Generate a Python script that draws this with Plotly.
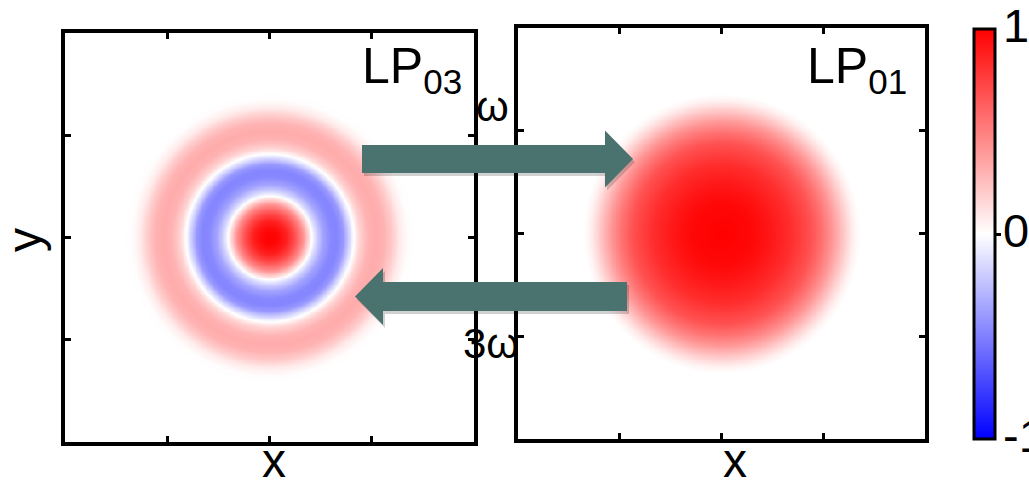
import numpy as np
import plotly.graph_objects as go

# ---------------- data ----------------
# radial field profiles, radius in axis units (panel spans -1..1)
lp03_r = [0, 0.04, 0.08, 0.12, 0.16, 0.185, 0.205, 0.225, 0.26, 0.30, 0.33,
          0.36, 0.39, 0.41, 0.44, 0.48, 0.52, 0.56, 0.60, 0.635, 0.675, 0.71, 1.5]
lp03_v = [1.0, 0.97, 0.88, 0.70, 0.45, 0.20, 0.0, -0.16, -0.36, -0.47, -0.48,
          -0.40, -0.15, 0.0, 0.18, 0.30, 0.33, 0.30, 0.20, 0.08, 0.01, 0.0, 0.0]

lp01_r = [0, 0.15, 0.24, 0.34, 0.44, 0.49, 0.54, 0.58, 0.62, 0.65, 0.68, 1.5]
lp01_v = [1.0, 0.97, 0.91, 0.82, 0.68, 0.56, 0.42, 0.28, 0.14, 0.05, 0.0, 0.0]

mode_labels = ["LP<sub>03</sub>", "LP<sub>01</sub>"]
freq_labels = ["ω", "3ω"]
cbar_ticks = [-1, 0, 1]
cbar_text = ["-1", "0", "1"]

# ---------------- build 2D fields from radial profiles ----------------
N = 241
g = np.linspace(-1, 1, N)
X, Y = np.meshgrid(g, g)
R = np.sqrt(X ** 2 + Y ** 2)
z03 = np.interp(R, lp03_r, lp03_v)
z01 = np.interp(R, lp01_r, lp01_v)

W, H = 1029, 483
def px(x):
    return x / W
def py(y):
    return 1 - y / H

FONT = "Liberation Sans, Arial, sans-serif"

fig = go.Figure()
fig.add_trace(go.Heatmap(x=g, y=g, z=z03, coloraxis="coloraxis", zsmooth="best",
                         hoverinfo="skip", xaxis="x", yaxis="y"))
fig.add_trace(go.Heatmap(x=g, y=g, z=z01, coloraxis="coloraxis", zsmooth="best",
                         hoverinfo="skip", xaxis="x2", yaxis="y2"))

ax_common = dict(range=[-1, 1], showline=True, linewidth=4, linecolor="black",
                 mirror="ticks", ticks="inside", ticklen=6, tickwidth=3,
                 tickcolor="black", tickvals=[-0.5, 0, 0.5], showticklabels=False,
                 showgrid=False, zeroline=False, fixedrange=True)

fig.update_layout(
    width=W, height=H, margin=dict(l=0, r=0, t=0, b=0, autoexpand=False),
    paper_bgcolor="white", plot_bgcolor="white",
    font=dict(family=FONT, color="black"),
    xaxis=dict(domain=[px(65), px(474)], anchor="y", **ax_common),
    yaxis=dict(domain=[py(442), py(33)], anchor="x", **ax_common),
    xaxis2=dict(domain=[px(518), px(925)], anchor="y2", **ax_common),
    yaxis2=dict(domain=[py(439), py(28)], anchor="x2", **ax_common),
    coloraxis=dict(
        cmin=-1, cmax=1,
        colorscale=[[0, "rgb(0,0,255)"], [0.5, "rgb(255,255,255)"], [1, "rgb(255,0,0)"]],
        colorbar=dict(x=px(973.5), xanchor="left", xpad=0, thickness=21,
                      thicknessmode="pixels", len=410, lenmode="pixels",
                      y=py(234), yanchor="middle", ypad=0,
                      outlinewidth=3, outlinecolor="black",
                      tickvals=[0], ticks="outside", showticklabels=False,
                      ticklen=5, tickwidth=3, tickcolor="black"),
    ),
    showlegend=False,
)

# arrows (layout shapes, pixel geometry converted to paper)
def arrow_path(tail, tip, yc, sh, hh, hl, dx=0, dy=0):
    d = 1 if tip > tail else -1
    base = tip - d * hl
    pts = [(tail, yc - sh), (base, yc - sh), (base, yc - hh), (tip, yc),
           (base, yc + hh), (base, yc + sh), (tail, yc + sh)]
    s = "M " + " L ".join(f"{px(x + dx):.5f},{py(y + dy):.5f}" for x, y in pts) + " Z"
    return s

ARROW = "#4a7370"
arrows = [(362, 633, 159, 14, 28.5, 28), (627, 355, 296.5, 14.5, 28.5, 28)]
shapes = []
for a in arrows:
    shapes.append(dict(type="path", path=arrow_path(*a, dx=2, dy=3), xref="paper",
                       yref="paper", fillcolor="rgba(0,0,0,0.18)", line=dict(width=0),
                       layer="above"))
    shapes.append(dict(type="path", path=arrow_path(*a), xref="paper", yref="paper",
                       fillcolor=ARROW, line=dict(width=0), layer="above"))
fig.update_layout(shapes=shapes)

ann = []
ann.append(dict(text=mode_labels[0], x=px(360), y=py(70), xanchor="left", yanchor="middle",
                font=dict(size=50)))
ann.append(dict(text=mode_labels[1], x=px(805), y=py(70), xanchor="left", yanchor="middle",
                font=dict(size=50)))
ann.append(dict(text=freq_labels[0], x=px(492), y=py(107), xanchor="center", yanchor="middle",
                font=dict(size=42)))
ann.append(dict(text=freq_labels[1], x=px(491), y=py(343), xanchor="center", yanchor="middle",
                font=dict(size=42)))
ann.append(dict(text="x", x=px(274), y=py(460), xanchor="center", yanchor="middle",
                font=dict(size=48)))
ann.append(dict(text="x", x=px(735), y=py(460), xanchor="center", yanchor="middle",
                font=dict(size=48)))
ann.append(dict(text="y", x=px(24), y=py(240), xanchor="center", yanchor="middle",
                textangle=-90, font=dict(size=48)))
# colour-bar tick labels
for val_text, yy in zip(cbar_text, [435, 230, 25]):
    ann.append(dict(text=val_text, x=px(1001), y=py(yy), xanchor="left", yanchor="middle",
                    font=dict(size=47)))
for a in ann:
    a.update(xref="paper", yref="paper", showarrow=False)
    a["font"].update(family=FONT, color="black")
fig.update_layout(annotations=ann)

fig.write_html("out.html")
